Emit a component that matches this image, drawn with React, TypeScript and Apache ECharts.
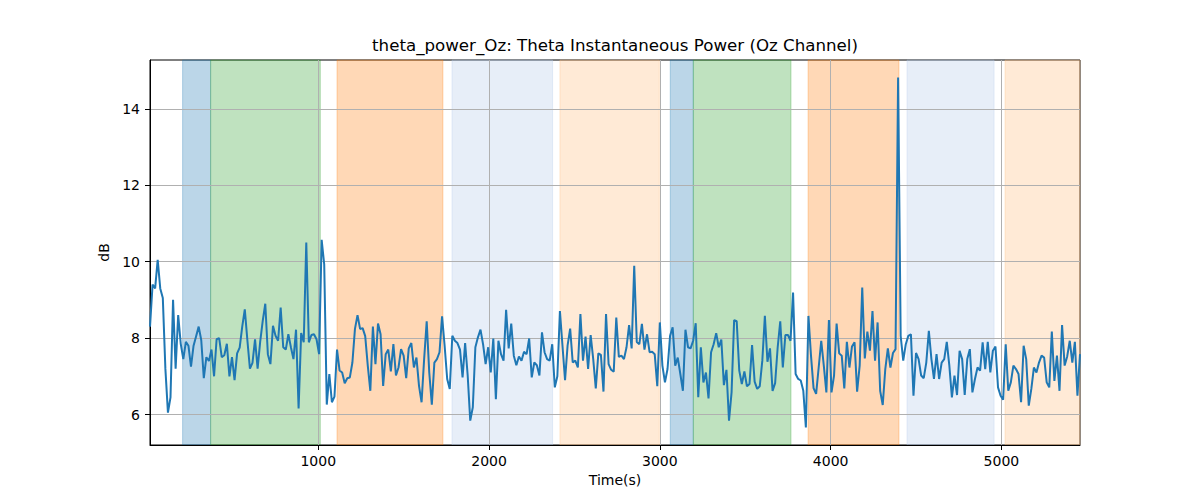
import React, { useEffect, useRef } from "react";
import * as echarts from "echarts";

const TITLE = "theta_power_Oz: Theta Instantaneous Power (Oz Channel)";
const X_NAME = "Time(s)";
const Y_NAME = "dB";

// sample grid (seconds)
const T0 = 15;
const DT = 15;

// instantaneous theta power (dB), one value per sample
const POWER_DB = [
  8.3, 9.4, 9.3, 10.05, 9.3, 9.05, 7.2, 6.05, 6.45, 9.0,
  7.2, 8.6, 7.85, 7.45, 7.9, 7.8, 7.25, 7.8, 8.05, 8.3,
  7.95, 6.95, 7.5, 7.4, 7.7, 7.0, 7.97, 8.0, 7.5, 7.55,
  7.85, 7.0, 7.5, 6.9, 7.6, 7.75, 8.3, 8.75, 7.95, 7.2,
  7.35, 7.97, 7.2,
  7.9, 8.45, 8.9, 7.58, 7.32, 8.32, 8.06, 7.93, 8.8, 7.76,
  7.7, 8.1, 7.76, 7.45, 8.22, 6.16, 8.13, 7.89, 10.5, 7.89,
  8.08, 8.1, 7.97, 7.58, 10.57, 9.93, 6.26, 7.06, 6.32, 6.47,
  7.7, 7.15, 7.1, 6.82, 6.95, 6.97, 7.36, 8.24, 8.6, 8.24,
  8.26, 8.05,
  7.28, 6.62, 8.3, 7.32, 8.38, 8.1, 6.75, 7.58, 7.7, 7.13,
  7.84, 7.02, 7.23, 7.71, 7.54, 6.95, 7.73, 7.87, 7.23, 7.49,
  6.75, 6.32, 7.45, 8.44, 7.1, 6.26, 7.36, 7.45, 7.63, 8.57,
  7.8, 6.93, 6.67, 8.06, 7.93, 7.87, 7.7, 6.97, 7.87, 7.02,
  5.84,
  6.19, 7.76, 8.02, 8.22, 7.84, 7.32, 7.76, 7.1, 7.99, 6.4,
  7.93, 7.58, 7.41, 8.74, 7.73, 8.38, 7.54, 7.29, 7.52, 7.41,
  7.64, 7.58, 7.99, 6.97, 7.36, 7.29, 7.02, 8.15, 7.63, 7.45,
  7.41, 7.84, 6.71, 7.0, 8.71, 7.8, 6.9, 7.81, 8.25, 7.36,
  7.41, 7.23,
  8.63, 7.41, 8.04, 7.19, 8.08, 7.45, 6.68, 7.6, 7.56, 6.6,
  8.63, 7.32, 7.17, 7.12, 8.54, 7.51, 7.54, 7.45, 7.76, 8.34,
  7.73, 9.89, 7.9, 7.84, 8.37, 7.7, 8.1, 7.63, 7.64, 7.58,
  6.74, 8.41, 7.28, 6.84, 7.19, 8.06, 8.28, 7.28, 7.49, 7.06,
  6.62, 8.22,
  7.76, 7.73, 7.93, 8.39, 6.45, 7.76, 6.84, 7.1, 6.42, 7.63,
  7.84, 8.13, 7.76, 7.96, 6.77, 7.17, 5.84, 6.58, 8.47, 8.44,
  7.15, 6.8, 7.13, 6.74, 6.8, 7.82, 6.86, 6.67, 6.74, 7.41,
  8.58, 7.38, 7.73, 6.62, 6.82, 7.76, 8.44, 7.23, 8.08, 8.08,
  7.93, 9.19,
  7.06, 6.93, 6.89, 6.62, 5.66, 8.58, 7.54, 6.69, 6.54, 7.23,
  7.93, 7.28, 6.58, 8.47, 6.58, 7.02, 8.38, 7.6, 7.54, 6.68,
  7.9, 7.23, 7.78, 7.89, 6.6, 7.28, 9.32, 7.47, 8.17, 7.67,
  8.71, 7.41, 8.41, 6.62, 6.25, 7.19, 7.73, 7.23, 7.61, 7.71,
  14.82,
  8.06, 7.41, 7.84, 8.06, 8.1, 6.49, 7.61, 7.45, 7.02, 6.95,
  7.36, 8.19, 7.45, 6.93, 7.58, 6.93, 7.36, 7.45, 7.9, 7.28,
  6.45, 7.02, 6.51, 7.67, 7.45, 6.51, 7.45, 7.71, 6.58, 6.93,
  7.23, 7.15, 7.89, 7.19, 7.9,
  7.1, 7.67, 7.78, 6.71, 6.49, 6.39, 7.84, 6.62, 6.84, 7.28,
  7.19, 7.06, 6.32, 7.8, 7.45, 6.23, 6.67, 7.23, 7.1, 7.36,
  7.54, 7.49, 6.84, 6.71, 8.17, 6.88, 7.54, 6.62, 8.34, 7.28,
  7.52, 7.93, 7.36, 7.9, 6.49, 7.58,
];

// shaded phases (seconds)
const BAND_STARTS = [206, 370, 1110, 1783, 2415, 3061, 3196, 3868, 4447, 5021];
const BAND_ENDS = [370, 1012, 1730, 2372, 2997, 3196, 3768, 4400, 4957, 5460];
const BAND_COLORS = [
  "rgba(31,119,180,0.3)",
  "rgba(44,160,44,0.3)",
  "rgba(255,127,14,0.3)",
  "rgba(174,199,232,0.3)",
  "rgba(255,187,120,0.3)",
  "rgba(31,119,180,0.3)",
  "rgba(44,160,44,0.3)",
  "rgba(255,127,14,0.3)",
  "rgba(174,199,232,0.3)",
  "rgba(255,187,120,0.3)",
];

const X_TICKS = [1000, 2000, 3000, 4000, 5000];
const Y_TICKS = [6, 8, 10, 12, 14];

const FONT = "DejaVu Sans";

export default function App() {
  const ref = useRef<HTMLDivElement>(null);

  useEffect(() => {
    if (!ref.current) return;
    const chart = echarts.init(ref.current, null, { renderer: "svg" });

    const times = POWER_DB.map((_, i) => T0 + i * DT);
    const lineData = POWER_DB.map((v, i) => [times[i], v]);
    const xMin = times[0];
    const xMax = times[times.length - 1];
    const dMin = Math.min(...POWER_DB);
    const dMax = Math.max(...POWER_DB);
    const pad = (dMax - dMin) * 0.05;
    const yMin = dMin - pad;
    const yMax = dMax + pad;

    const bands = BAND_STARTS.map((s, i) => [
      {
        xAxis: s,
        itemStyle: {
          color: BAND_COLORS[i],
          borderColor: BAND_COLORS[i],
          borderWidth: 1,
        },
      },
      { xAxis: Math.min(BAND_ENDS[i], xMax) },
    ]);

    const axisCommon = {
      type: "value" as const,
      z: 2,
      axisLine: { show: true, onZero: false, lineStyle: { color: "#000", width: 1 } },
      splitLine: { show: true, lineStyle: { color: "#b0b0b0", width: 1 } },
      nameLocation: "middle" as const,
      nameTextStyle: { fontFamily: FONT, fontSize: 14, color: "#000" },
    };

    chart.setOption({
      animation: false,
      textStyle: { fontFamily: FONT },
      title: {
        text: TITLE,
        left: 615,
        top: 37,
        textAlign: "center",
        padding: 0,
        textStyle: { fontFamily: FONT, fontSize: 16.67, fontWeight: "normal", color: "#000" },
      },
      grid: {
        left: 150,
        top: 60,
        right: 120,
        bottom: 55,
        show: true,
        borderColor: "#000",
        borderWidth: 1,
        backgroundColor: "transparent",
      },
      xAxis: {
        ...axisCommon,
        min: xMin,
        max: xMax,
        name: X_NAME,
        nameGap: 28,
        axisTick: { show: true, length: 5, customValues: X_TICKS, lineStyle: { color: "#000" } },
        axisLabel: {
          customValues: X_TICKS,
          margin: 9,
          fontSize: 14,
          color: "#000",
          fontFamily: FONT,
          formatter: (v: number) => String(v),
        },
      },
      yAxis: {
        ...axisCommon,
        min: yMin,
        max: yMax,
        name: Y_NAME,
        nameGap: 33,
        axisTick: { show: true, length: 5, customValues: Y_TICKS, lineStyle: { color: "#000" } },
        axisLabel: {
          customValues: Y_TICKS,
          margin: 10,
          fontSize: 14,
          color: "#000",
          fontFamily: FONT,
          formatter: (v: number) => String(v),
        },
      },
      series: [
        {
          type: "line",
          data: [],
          z: 1,
          silent: true,
          markArea: { silent: true, data: bands },
        },
        {
          type: "line",
          data: lineData,
          z: 3,
          symbol: "none",
          showSymbol: false,
          lineStyle: { color: "#1f77b4", width: 2 },
          itemStyle: { color: "#1f77b4" },
        },
      ],
    });

    return () => chart.dispose();
  }, []);

  return (
    <div
      ref={ref}
      style={{ position: "absolute", left: 0, top: 0, width: 1200, height: 500 }}
    />
  );
}
